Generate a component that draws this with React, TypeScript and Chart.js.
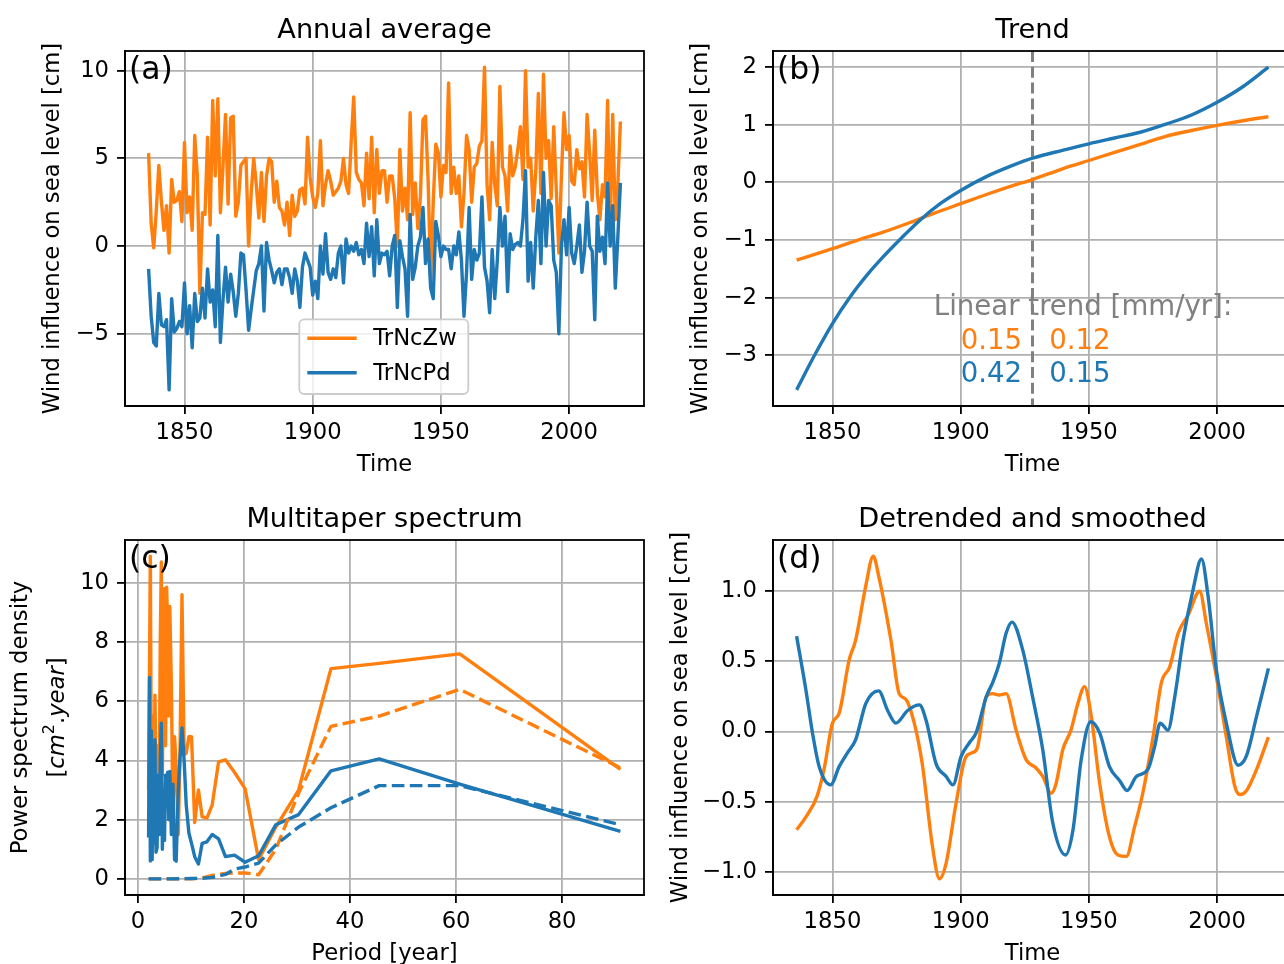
import React, { useEffect, useRef } from 'react';
import { Chart, registerables } from 'chart.js';

Chart.register(...registerables);

// ---------------- style constants ----------------
const FONT = "'DejaVu Sans', 'Liberation Sans', sans-serif";
const ORANGE = '#ff7f0e';
const BLUE = '#1f77b4';
const GRID = '#b0b0b0';
const GRAY = '#808080';
const TICK_PX = 22.7;
const TITLE_PX = 27.2;
const NOTE_PX = 27.6;
const LABEL_PX = 31.5;
const LINE_W = 3.4;
const SPINE_W = 1.8;

const CANVAS_W = 650;
const CANVAS_H = 489;
const PAD_TOP = 51;
const PAD_RIGHT = 6;
const Y_AXIS_W = 125;
const X_AXIS_H = 83;

// ---------------- data ----------------
const seriesNames = ['TrNcZw', 'TrNcPd'];

// (a) annual averages, one value per year starting at FIRST_YEAR
const FIRST_YEAR = 1836;
const annualZw = [
  5.3, 1.3, -0.1, 2.0, 4.6, 2.5, 0.9, 2.3, -0.4, 3.8,
  2.5, 2.6, 3.1, 1.4, 5.9, 1.9, 2.8, 0.9, 6.3, 4.0,
  -2.7, 1.9, 1.8, 6.2, 1.2, 8.3, 4.0, 8.4, 1.9, 4.5,
  7.5, 2.4, 7.3, 7.4, 1.7, 2.5, 4.6, 4.8, 5.0, 0.0,
  3.0, 5.0, 3.5, 1.6, 4.2, 1.4, 4.0, 5.0, 4.8, 2.5,
  3.7, 2.2, 2.0, 1.2, 2.5, 0.6, 2.9, 1.7, 2.0, 3.2,
  3.3, 2.4, 6.2, 3.9, 2.8, 2.2, 3.0, 6.0, 2.3, 3.5,
  4.3, 3.7, 2.9, 3.1, 3.3, 3.7, 5.0, 3.5, 3.0, 5.9,
  8.5, 4.2, 3.8, 3.6, 2.3, 5.3, 2.7, 6.2, 1.9, 5.5,
  3.0, 4.3, 4.3, 2.5, 4.0, 4.0, 2.7, 0.0, 5.5, 2.0,
  3.3, 1.5, 7.6, 1.8, 3.6, 1.0, 2.8, 7.2, 7.4, 3.8,
  -1.8, 2.5, 5.8, 5.3, 2.8, 4.6, 4.2, 9.3, 3.0, 4.5,
  3.0, 4.0, 1.1, 3.0, 6.3, 5.5, 2.5, 4.5, 4.7, 5.7,
  6.0, 10.2, 3.5, 1.5, 5.9, 3.5, 2.3, 9.1, 4.5, 4.0,
  2.0, 5.7, 4.0, 4.5, 5.5, 6.8, 3.8, 10.0, 4.5, 5.0,
  2.0, 4.3, 8.7, 3.0, 9.8, 5.0, 6.0, 2.7, 6.8, 3.2,
  -0.4, 4.0, 7.6, 5.5, 6.3, 3.7, 3.5, 5.5, 4.4, 4.8,
  2.8, 7.5, 5.3, 2.6, 6.6, 3.0, 1.5, 3.5, 2.8, 8.3,
  0.8, 7.5, 1.5, 3.5, 7.1,
];
const annualPd = [
  -1.3, -4.0, -5.5, -5.7, -2.7, -4.5, -4.6, -4.2, -8.2, -3.0,
  -4.9, -4.7, -4.3, -4.6, -2.1, -5.0, -3.4, -5.8, -2.7, -4.3,
  -4.1, -2.4, -4.1, -1.3, -3.2, -2.5, -4.6, 0.6, -5.5, -3.1,
  -1.2, -3.2, -1.6, -2.6, -4.0, -2.7, -0.4, -0.5, -2.5, -4.8,
  -3.6, -2.5, -1.4, -1.0, 0.0, -3.7, 0.2, -0.8, -1.4, -2.1,
  -1.5, -1.3, -2.2, -1.3, -1.3, -1.8, -2.7, -1.3, -2.0, -3.5,
  -1.2, -0.4, -0.8, -1.2, -2.8, -2.0, -3.0, 0.0, -1.6, 0.7,
  -1.5, -1.9, -1.3, -1.8, -0.4, 0.0, -2.1, 0.4, -0.4, 0.0,
  -0.3, 0.2, -0.5, -0.2, -1.0, 1.3, -0.6, 1.1, -1.7, 1.5,
  -1.0, -0.4, -0.5, -0.3, -1.7, 0.0, 0.6, -3.5, 0.3, -0.6,
  -1.3, -4.0, 1.8, -1.9, -1.2, 0.0, 0.5, 2.2, -1.0, 0.4,
  -2.4, -3.0, 1.4, 0.6, -0.6, 0.0, -0.2, -0.2, -1.3, 0.0,
  -0.5, 0.8, -0.8, -4.0, -1.5, 2.2, -1.9, -0.2, -0.8, -0.4,
  2.8, -1.2, -2.0, -3.8, -0.2, -3.0, -0.8, 2.2, 0.0, 1.7,
  -2.6, 0.7, -0.2, 0.1, 0.2, 0.0, 1.5, 4.3, -2.0, 0.2,
  -2.4, 0.5, 2.6, -1.0, 4.2, 0.0, 2.6, 2.3, -0.8, -1.5,
  -5.0, 0.0, 1.5, -0.5, 2.2, -0.4, -1.0, 0.0, 1.2, -1.5,
  -0.3, 2.5, 0.0, -0.3, -4.2, 1.7, -0.3, 0.5, -1.0, 3.6,
  0.0, 2.3, -2.4, 0.5, 3.6,
];

// (b) trends
const trendYearsZw = [1836, 1850, 1860, 1870, 1880, 1890, 1900, 1910, 1920, 1928, 1940, 1950, 1960, 1970, 1980, 1990, 2000, 2010, 2020];
const trendZw = [-1.35, -1.15, -1.0, -0.86, -0.7, -0.53, -0.37, -0.21, -0.06, 0.05, 0.24, 0.38, 0.52, 0.66, 0.8, 0.9, 0.99, 1.07, 1.14];
const trendYearsPd = [1836, 1843, 1850, 1857, 1864, 1870, 1877, 1884, 1892, 1900, 1910, 1920, 1928, 1940, 1950, 1960, 1970, 1980, 1990, 2000, 2010, 2020];
const trendPd = [-3.6, -3.0, -2.45, -1.98, -1.58, -1.28, -0.96, -0.66, -0.37, -0.14, 0.1, 0.29, 0.42, 0.56, 0.67, 0.77, 0.87, 1.01, 1.17, 1.39, 1.66, 2.0];
const splitYears = [1928];
const trendNoteText = 'Linear trend [mm/yr]:';
const trendNotePos = [1889.5, -2.305];
const rateColumnsX = [1900, 1934.5];
const rateRowsY = [-2.894, -3.461];
const ratesZw = ['0.15', '0.12'];
const ratesPd = ['0.42', '0.15'];

// (c) multitaper spectrum
const psdPeriods = [2.0, 2.17, 2.33, 2.5, 2.68, 2.84, 3.0, 3.2, 3.4, 3.6, 3.8, 4.0, 4.2, 4.4, 4.6, 4.8, 5.0, 5.2, 5.4, 5.6, 5.8, 6.0, 6.3, 6.6, 6.9, 7.2, 7.6, 7.9, 8.3, 8.7, 9.1, 9.6, 10.1, 10.7, 11.4, 12.1, 13.0, 14.0, 15.2, 16.5, 18.2, 20.2, 22.75, 26.0, 30.3, 36.4, 45.5, 60.7, 91.0];
const psdZw = [3.0, 7.0, 10.9, 4.0, 1.8, 5.5, 2.5, 6.2, 3.5, 1.8, 4.5, 2.5, 8.0, 10.7, 3.5, 7.5, 9.8, 4.5, 9.85, 8.5, 5.5, 9.2, 6.5, 2.0, 4.8, 3.8, 1.5, 4.0, 9.6, 4.2, 4.25, 4.8, 4.8, 1.9, 3.0, 2.1, 2.05, 2.5, 3.95, 4.02, 3.6, 3.05, 0.65, 1.75, 3.0, 7.1, 7.28, 7.6, 3.7];
const psdPd = [1.4, 6.8, 0.6, 5.0, 0.65, 4.5, 1.2, 4.7, 0.9, 1.05, 3.5, 1.5, 4.0, 5.26, 1.0, 3.0, 1.3, 3.5, 3.0, 3.6, 2.0, 3.63, 1.5, 3.2, 0.65, 0.6, 3.0, 4.0, 5.1, 4.0, 2.5, 1.55, 1.2, 0.75, 0.5, 1.2, 1.25, 1.5, 1.35, 0.75, 0.8, 0.56, 0.78, 1.83, 2.17, 3.65, 4.05, 3.2, 1.6];
const refPeriods = [2.0, 6.0, 10.1, 12.1, 14.0, 16.5, 18.2, 20.2, 22.75, 26.0, 30.3, 36.4, 45.5, 60.7, 91.0];
const refZw = [0.0, 0.0, 0.0, 0.03, 0.12, 0.18, 0.2, 0.2, 0.14, 1.0, 2.9, 5.15, 5.5, 6.4, 3.75];
const refPd = [0.0, 0.0, 0.01, 0.02, 0.05, 0.15, 0.33, 0.4, 0.53, 1.15, 1.75, 2.4, 3.15, 3.15, 1.83];

// (d) detrended and smoothed
const smoothYearsZw = [1836, 1839.6, 1844, 1846.7, 1850, 1852.6, 1856.5, 1859, 1863, 1865.9, 1868, 1872.8, 1876, 1878.6, 1881.9, 1885, 1889, 1891.7, 1894.3, 1898.2, 1902, 1904.7, 1906.6, 1910, 1912.5, 1915, 1917.7, 1921.6, 1925.5, 1929.4, 1932, 1935.3, 1937.2, 1939.8, 1943, 1945.7, 1948.3, 1950.9, 1954.2, 1958, 1961.3, 1964.6, 1967.8, 1971, 1975, 1978.3, 1981.5, 1984.8, 1988.7, 1993.2, 1995.8, 1999.7, 2003.6, 2006.9, 2008.9, 2011.5, 2015.4, 2020];
const smoothZw = [-0.7, -0.61, -0.46, -0.27, 0.06, 0.13, 0.51, 0.65, 1.04, 1.25, 1.11, 0.65, 0.27, 0.23, 0.06, -0.23, -0.82, -1.05, -0.94, -0.51, -0.18, -0.15, -0.11, 0.25, 0.27, 0.26, 0.27, 0.01, -0.2, -0.26, -0.32, -0.44, -0.37, -0.13, 0.01, 0.2, 0.32, 0.11, -0.37, -0.75, -0.88, -0.89, -0.68, -0.44, -0.04, 0.35, 0.46, 0.7, 0.83, 1.0, 0.77, 0.39, -0.04, -0.39, -0.45, -0.42, -0.27, -0.04];
const smoothYearsPd = [1836, 1839.6, 1842.2, 1844.8, 1849.3, 1852.6, 1855.9, 1859, 1863, 1868, 1871.5, 1874.7, 1879.3, 1883.9, 1886.5, 1890.4, 1894.3, 1897, 1900.1, 1903.4, 1906, 1910, 1912.5, 1915.1, 1917.7, 1920, 1924.2, 1928, 1932, 1935.9, 1940.9, 1943.8, 1947, 1950.7, 1954.2, 1958, 1962, 1964.9, 1968.5, 1973, 1975.6, 1977.8, 1980.8, 1983.5, 1986.7, 1990.6, 1993.9, 1996.5, 1999.7, 2003.6, 2008.2, 2011.5, 2015.4, 2020];
const smoothPd = [0.68, 0.3, -0.01, -0.25, -0.38, -0.25, -0.15, -0.06, 0.2, 0.29, 0.15, 0.06, 0.15, 0.19, 0.08, -0.23, -0.32, -0.38, -0.18, -0.08, -0.01, 0.25, 0.35, 0.49, 0.7, 0.78, 0.58, 0.25, -0.13, -0.65, -0.88, -0.7, -0.2, 0.07, -0.01, -0.25, -0.35, -0.42, -0.32, -0.27, -0.11, 0.06, 0.01, 0.25, 0.65, 1.01, 1.23, 0.96, 0.44, 0.06, -0.24, -0.17, 0.11, 0.45];

// ticks
const timeTicks = [1850, 1900, 1950, 2000];
const annualTicks = [-5, 0, 5, 10];
const trendTicks = [-3, -2, -1, 0, 1, 2];
const periodTicks = [0, 20, 40, 60, 80];
const psdTicks = [0, 2, 4, 6, 8, 10];
const smoothTicks = [-1, -0.5, 0, 0.5, 1];

const TIME_RANGE = [1826.8, 2029.2];
const PERIOD_RANGE = [-2.45, 95.45];

// ---------------- helpers ----------------
const minus = (s: string) => s.replace('-', '\u2212');
const fmtInt = (v: any) => minus(String(Math.round(Number(v))));
const fmt1 = (v: any) => {
  const n = Number(v);
  return minus((Math.abs(n) < 1e-9 ? 0 : n).toFixed(1));
};

const pts = (xs: number[], ys: number[]) => xs.map((x, i) => ({ x, y: ys[i] }));

function line(data: any[], color: string, extra: any = {}) {
  return {
    data,
    borderColor: color,
    backgroundColor: color,
    borderWidth: LINE_W,
    pointRadius: 0,
    fill: false,
    borderJoinStyle: 'round',
    borderCapStyle: 'butt',
    ...extra,
  };
}

function axis(kind: 'x' | 'y', range: number[], ticks: number[], title: any, fmt: (v: any) => string, titlePad?: number) {
  const isX = kind === 'x';
  return {
    type: 'linear',
    min: range[0],
    max: range[1],
    afterBuildTicks: (s: any) => {
      s.ticks = ticks.map((v) => ({ value: v }));
    },
    afterFit: (s: any) => {
      if (isX) s.height = X_AXIS_H;
      else s.width = Y_AXIS_W;
    },
    grid: { color: GRID, lineWidth: 1.8, drawTicks: true, tickLength: 8, tickColor: '#000', tickWidth: SPINE_W },
    border: { display: true, color: '#000', width: SPINE_W },
    ticks: {
      color: '#000',
      font: { family: FONT, size: TICK_PX },
      padding: isX ? 5 : 8,
      autoSkip: false,
      maxRotation: 0,
      minRotation: 0,
      callback: (v: any) => fmt(v),
    },
    title: {
      display: title !== null,
      text: title ?? '',
      color: '#000',
      font: { family: FONT, size: TICK_PX },
      padding: isX ? { top: 0, bottom: 10.6 } : { top: titlePad ?? 39.4, bottom: 0 },
    },
  };
}

function decorPlugin(spec: { title: string; label: string; before?: (c: any) => void; after?: (c: any) => void }) {
  return {
    id: 'decor',
    beforeDatasetsDraw(chart: any) {
      if (spec.before) {
        chart.ctx.save();
        spec.before(chart);
        chart.ctx.restore();
      }
    },
    afterDatasetsDraw(chart: any) {
      const { ctx, chartArea: a } = chart;
      if (spec.after) {
        ctx.save();
        spec.after(chart);
        ctx.restore();
      }
      ctx.save();
      ctx.setLineDash([]);
      ctx.strokeStyle = '#000';
      ctx.lineWidth = SPINE_W;
      ctx.strokeRect(a.left, a.top, a.right - a.left, a.bottom - a.top);
      ctx.fillStyle = '#000';
      ctx.textBaseline = 'alphabetic';
      ctx.textAlign = 'left';
      ctx.font = `${LABEL_PX}px ${FONT}`;
      ctx.fillText(spec.label, a.left + 4, a.top + 28);
      ctx.textAlign = 'center';
      ctx.font = `${TITLE_PX}px ${FONT}`;
      ctx.fillText(spec.title, (a.left + a.right) / 2, a.top - 12.7);
      ctx.restore();
    },
  };
}

function baseConfig(datasets: any[], xs: any, ys: any, plugin: any) {
  return {
    type: 'line',
    data: { datasets },
    options: {
      responsive: false,
      animation: false,
      devicePixelRatio: 1,
      layout: { padding: { top: PAD_TOP, right: PAD_RIGHT, left: 0, bottom: 0 } },
      plugins: { legend: { display: false }, tooltip: { enabled: false }, title: { display: false } },
      scales: { x: xs, y: ys },
    },
    plugins: [plugin],
  };
}

// ---------------- panel configs ----------------
function drawLegend(chart: any) {
  const { ctx, chartArea: a } = chart;
  const w = 169;
  const h = 74.7;
  const x0 = a.left + 174.3;
  const y0 = a.bottom - 12 - h;
  ctx.beginPath();
  ctx.roundRect(x0, y0, w, h, 5);
  ctx.fillStyle = 'rgba(255,255,255,0.8)';
  ctx.fill();
  ctx.strokeStyle = '#cccccc';
  ctx.lineWidth = 1.8;
  ctx.stroke();
  const colors = [ORANGE, BLUE];
  seriesNames.forEach((name, i) => {
    const y = y0 + 19 + i * 34.4;
    ctx.beginPath();
    ctx.moveTo(x0 + 8, y);
    ctx.lineTo(x0 + 57.4, y);
    ctx.strokeStyle = colors[i];
    ctx.lineWidth = LINE_W;
    ctx.stroke();
    ctx.fillStyle = '#000';
    ctx.font = `${TICK_PX}px ${FONT}`;
    ctx.textBaseline = 'middle';
    ctx.textAlign = 'left';
    ctx.fillText(name, x0 + 74, y + 1);
  });
}

function configA() {
  const years = annualZw.map((_, i) => FIRST_YEAR + i);
  return baseConfig(
    [
      line(pts(years, annualZw), ORANGE, { order: 1 }),
      line(pts(years, annualPd), BLUE, { order: 0 }),
    ],
    axis('x', TIME_RANGE, timeTicks, 'Time', fmtInt),
    axis('y', [-9.12, 11.12], annualTicks, 'Wind influence on sea level [cm]', fmtInt),
    decorPlugin({ title: 'Annual average', label: '(a)', after: drawLegend })
  );
}

function configB() {
  const before = (chart: any) => {
    const { ctx, chartArea: a, scales } = chart;
    splitYears.forEach((yr) => {
      const x = scales.x.getPixelForValue(yr);
      ctx.beginPath();
      ctx.setLineDash([11, 4.8]);
      ctx.strokeStyle = GRAY;
      ctx.lineWidth = 3;
      ctx.moveTo(x, a.top);
      ctx.lineTo(x, a.bottom);
      ctx.stroke();
    });
  };
  const after = (chart: any) => {
    const { ctx, scales } = chart;
    const sx = scales.x;
    const sy = scales.y;
    ctx.font = `${NOTE_PX}px ${FONT}`;
    ctx.textBaseline = 'alphabetic';
    ctx.textAlign = 'left';
    ctx.fillStyle = GRAY;
    ctx.fillText(trendNoteText, sx.getPixelForValue(trendNotePos[0]), sy.getPixelForValue(trendNotePos[1]));
    rateColumnsX.forEach((cx, j) => {
      ctx.fillStyle = ORANGE;
      ctx.fillText(ratesZw[j], sx.getPixelForValue(cx), sy.getPixelForValue(rateRowsY[0]));
      ctx.fillStyle = BLUE;
      ctx.fillText(ratesPd[j], sx.getPixelForValue(cx), sy.getPixelForValue(rateRowsY[1]));
    });
  };
  return baseConfig(
    [
      line(pts(trendYearsZw, trendZw), ORANGE, { order: 1, cubicInterpolationMode: 'monotone' }),
      line(pts(trendYearsPd, trendPd), BLUE, { order: 0, cubicInterpolationMode: 'monotone' }),
    ],
    axis('x', TIME_RANGE, timeTicks, 'Time', fmtInt),
    axis('y', [-3.88, 2.28], trendTicks, 'Wind influence on sea level [cm]', fmtInt),
    decorPlugin({ title: 'Trend', label: '(b)', before, after })
  );
}

function configC() {
  const after = (chart: any) => {
    const { ctx, chartArea: a } = chart;
    const cy = (a.top + a.bottom) / 2;
    const bx = a.left - 61.5;
    const normal = `${TICK_PX}px ${FONT}`;
    const ital = `italic ${TICK_PX}px ${FONT}`;
    const sup = `${(TICK_PX * 0.7).toFixed(1)}px ${FONT}`;
    const parts = [
      { t: '[', f: normal, dy: 0 },
      { t: 'cm', f: ital, dy: 0 },
      { t: '2', f: sup, dy: -TICK_PX * 0.42 },
      { t: '.', f: normal, dy: 0 },
      { t: 'year', f: ital, dy: 0 },
      { t: ']', f: normal, dy: 0 },
    ];
    let total = 0;
    const widths = parts.map((p) => {
      ctx.font = p.f;
      const w = ctx.measureText(p.t).width;
      total += w;
      return w;
    });
    ctx.translate(bx, cy);
    ctx.rotate(-Math.PI / 2);
    ctx.fillStyle = '#000';
    ctx.textBaseline = 'alphabetic';
    ctx.textAlign = 'left';
    let x = -total / 2;
    parts.forEach((p, i) => {
      ctx.font = p.f;
      ctx.fillText(p.t, x, p.dy);
      x += widths[i];
    });
  };
  const dash = [12.6, 5.4];
  return baseConfig(
    [
      line(pts(psdPeriods, psdZw), ORANGE, { order: 3 }),
      line(pts(psdPeriods, psdPd), BLUE, { order: 2 }),
      line(pts(refPeriods, refZw), ORANGE, { order: 1, borderDash: dash }),
      line(pts(refPeriods, refPd), BLUE, { order: 0, borderDash: dash }),
    ],
    axis('x', PERIOD_RANGE, periodTicks, 'Period [year]', fmtInt),
    axis('y', [-0.545, 11.445], psdTicks, 'Power spectrum density', fmtInt, 7.4),
    decorPlugin({ title: 'Multitaper spectrum', label: '(c)', after })
  );
}

function configD() {
  return baseConfig(
    [
      line(pts(smoothYearsZw, smoothZw), ORANGE, { order: 1, cubicInterpolationMode: 'monotone' }),
      line(pts(smoothYearsPd, smoothPd), BLUE, { order: 0, cubicInterpolationMode: 'monotone' }),
    ],
    axis('x', TIME_RANGE, timeTicks, 'Time', fmtInt),
    axis('y', [-1.165, 1.365], smoothTicks, 'Wind influence on sea level [cm]', fmt1, 19.4),
    decorPlugin({ title: 'Detrended and smoothed', label: '(d)' })
  );
}

// ---------------- components ----------------
function Panel({ left, top, make }: { left: number; top: number; make: () => any }) {
  const ref = useRef<HTMLCanvasElement>(null);
  useEffect(() => {
    const chart = new Chart(ref.current as HTMLCanvasElement, make() as any);
    return () => chart.destroy();
  }, []);
  return (
    <canvas
      ref={ref}
      width={CANVAS_W}
      height={CANVAS_H}
      style={{ position: 'absolute', left, top, width: CANVAS_W, height: CANVAS_H }}
    />
  );
}

export default function App() {
  return (
    <div
      style={{
        position: 'fixed',
        left: 0,
        top: 0,
        width: 1284,
        height: 964,
        overflow: 'hidden',
        background: '#ffffff',
      }}
    >
      <Panel left={0} top={0} make={configA} />
      <Panel left={648} top={0} make={configB} />
      <Panel left={0} top={489} make={configC} />
      <Panel left={648} top={489} make={configD} />
    </div>
  );
}
